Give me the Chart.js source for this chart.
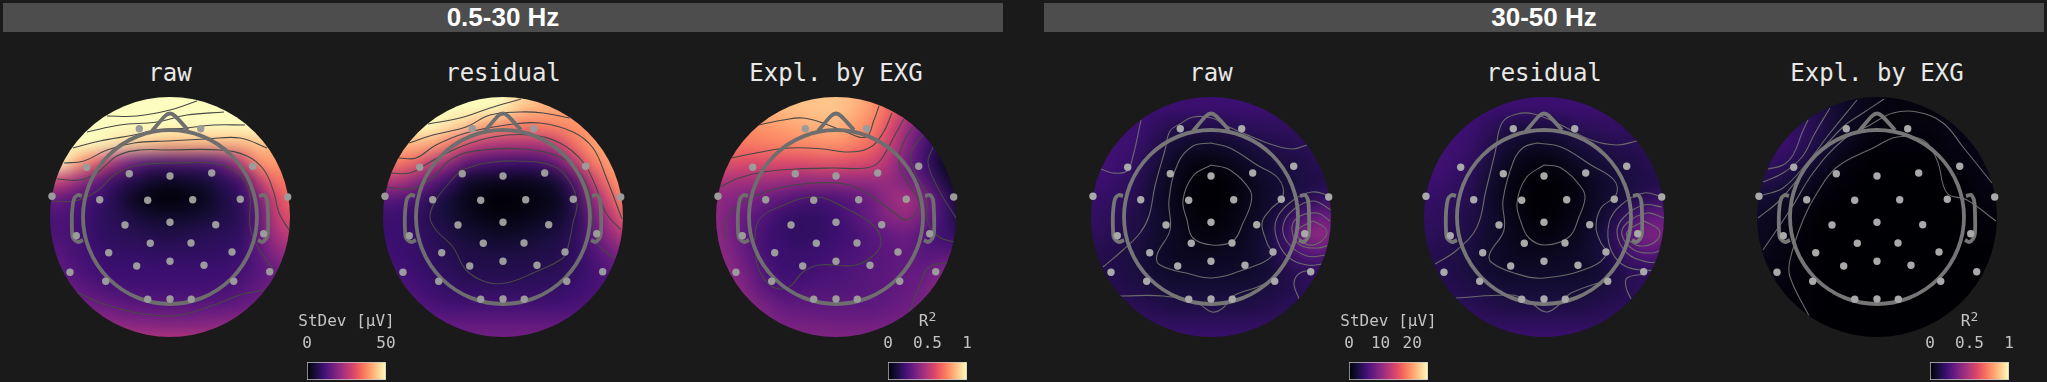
<!DOCTYPE html>
<html>
<head>
<meta charset="utf-8">
<title>EEG topomaps</title>
<script src="https://cdn.jsdelivr.net/npm/chart.js@4"></script>
<style>
  html, body { margin: 0; background: #1a1a1a; width: 2047px; height: 382px; overflow: hidden; }
  canvas { position: absolute; }
  .band { position: absolute; top: 3px; height: 29px; background: #4d4d4d; color: #fff; text-align: center;
          font: bold 26px/28px "Liberation Sans", sans-serif; }
  .title { position: absolute; top: 56px; width: 300px; text-align: center; color: #e8e8e8;
           font: 24px/34px "DejaVu Sans Mono", monospace; }
  .cbar-label { position: absolute; top: 311px; width: 139px; text-align: center; color: #c4c4c4;
                font: 16px/20px "DejaVu Sans Mono", monospace; }
  .cbar-label sup { font-size: 13px; line-height: 0; position: relative; top: 1px; vertical-align: super; }
</style>
</head>
<body>
<script>
// grid of the heat cells, in head units
const gridX = [-126, -108, -90, -72, -54, -36, -18, 0, 18, 36, 54, 72, 90, 108, 126];
const gridY = [-126, -108, -90, -72, -54, -36, -18, 0, 18, 36, 54, 72, 90, 108, 126];

// 0.5-30 Hz, StDev in uV
const lowRaw = [
  [60,60,60,60,60,60,60,60,60,60,60,60,60,60,60],
  [60,60,60,60,60,60,60,60,60,60,60,60,60,60,60],
  [60,60,60,60,60,60,60,60,60,60,60,60,58,56,55],
  [60,58,55,50,47,45,44,42,42,42,42,42,44,42,40],
  [50,50,40,32,22,15,12,12,12,12,15,27,39,40,37],
  [30,27,21,15,9,7,4,3,4,5,8,10,27,36,36],
  [15,15,12,10,7,2.5,1,0,1,2.5,6,9,17,30,35],
  [12,12,11,9,7.5,6,4,4,4,5,6.5,7.5,15,27,32],
  [12,12,11,9,8,7.5,7,6.5,7,7.5,8,8.5,15,24,27],
  [14,13,11,10,9,9,8.5,8.5,8.5,8.5,9,10,14,20,22],
  [16,14,12,10.5,10,10,10,10,10,10,10,11,13,16,19],
  [19,16,14,12.5,11.5,11,11,11,11,11,11.5,12.5,15,17,20],
  [21,20,17,16,15,14,13.5,13.5,13.5,14,14,15,16,19,21],
  [25,24,22,21,20,19,19,18.5,18.5,19,20,21,22,24,25],
  [27,27,26,25,25,25,25,25,25,25,25,25,26,27,27]
];
const lowResidual = [
  [60,60,60,60,60,60,60,60,47,45,42,40,40,40,40],
  [55,55,55,55,55,52,50,49,44,42,41,40,39,39,39],
  [50,50,50,50,47,44,40,37,36,36,37,39,39,39,39],
  [45,44,42,41,36,29,25,24,24,24,27,35,40,42,42],
  [36,36,34,27,21,14,12,11,10,11,15,25,36,40,42],
  [25,25,21,15,10,4,3,2.5,2.5,3,5,12,27,37,41],
  [14,13,12,8,5,2,0.5,0,0.5,1.5,2.5,7.5,20,31,40],
  [10,10,9,7,5,3,1.5,1,1.5,2.5,3.5,7,16,25,35],
  [10,10,9.5,8,6.5,5,4,3.5,4,5,6,8,14,21,27],
  [11,10,9.5,8.5,7,6.5,6,6,6,6.5,7,8.5,12,16,21],
  [12,11,10,9,8,7,7,7,7,7.5,7.5,8.5,11,13,16],
  [14,13,11.5,10,9,8.5,8.5,8.5,8.5,8.5,9,10,11,13,15],
  [16,15,13,12,11,11,11,11,11,11,11,11.5,12.5,14,16],
  [19,17,16,15,15,15,15,15,15,15,15,15,15,16,17],
  [21,20,19,18,17,17,17,17,17,17,17,17,17,18,19]
];
const lowExpl = [
  [.85,.85,.85,.85,.87,.88,.88,.88,.85,.8,.7,.6,.5,.4,.4],
  [.8,.8,.82,.85,.86,.87,.88,.88,.85,.78,.68,.55,.42,.3,.25],
  [.75,.75,.76,.78,.8,.82,.84,.85,.8,.74,.6,.42,.28,.15,.08],
  [.72,.72,.72,.73,.74,.75,.76,.77,.74,.68,.55,.38,.22,.1,.03],
  [.62,.62,.6,.6,.6,.6,.62,.62,.6,.58,.48,.32,.2,.06,.02],
  [.48,.47,.45,.45,.44,.42,.42,.42,.42,.42,.42,.35,.26,.12,.03],
  [.42,.38,.36,.32,.28,.24,.22,.24,.27,.32,.42,.47,.36,.22,.06],
  [.42,.36,.3,.25,.19,.17,.18,.2,.25,.32,.38,.42,.32,.22,.1],
  [.42,.36,.28,.22,.19,.17,.18,.2,.22,.26,.3,.32,.25,.2,.15],
  [.42,.38,.3,.22,.2,.19,.2,.22,.24,.26,.28,.3,.26,.26,.28],
  [.44,.4,.33,.25,.2,.2,.22,.24,.25,.27,.28,.3,.3,.36,.42],
  [.46,.42,.36,.28,.24,.24,.25,.25,.26,.27,.28,.3,.33,.42,.46],
  [.46,.44,.4,.35,.3,.29,.28,.28,.28,.28,.3,.32,.36,.42,.46],
  [.46,.44,.42,.38,.35,.34,.34,.33,.33,.33,.34,.36,.38,.42,.44],
  [.46,.44,.42,.4,.38,.38,.38,.38,.38,.38,.38,.38,.4,.42,.44]
];

// 30-50 Hz
const highRaw = [
  [5,5,5,5,5,5,5,5,5,5,5,5,5,5,5],
  [5,5,5,5,5,5,5,5,5,5,5,4.8,4.5,4.5,4.5],
  [5.2,5.2,5.2,5,4.2,3.5,3.2,3.2,3.5,4,4.2,4.2,4.2,4.2,4.2],
  [5.5,5.5,5.2,4.8,3.5,2.5,2,2,2.2,2.8,3.2,3.5,3.8,4,4],
  [5.5,5.5,5,4.2,2.8,1.5,0.8,0.5,1,1.8,2.5,3,3.2,3.8,4],
  [5,5,4.5,3.8,2.2,1.2,0.2,0,0.2,1,2,2.5,3,3.2,3.8],
  [4.8,4.5,4.2,3.5,2,1,0.2,0,0.2,1,1.8,2.5,3.2,4.2,4.8],
  [4.5,4.2,3.8,3.2,2.2,1.2,0.5,0,0.5,1.2,2,3.5,6,8,7.5],
  [4.2,4,3.5,3,2.2,1.5,0.8,0.5,0.8,1.5,2.5,4.5,8.5,10.8,8.8],
  [3.8,3.5,3.2,2.8,2,1.5,1.2,1.2,1.5,1.8,2.5,4,6.5,7,6.2],
  [3.5,3.5,3.2,2.8,2,1.8,1.8,1.8,1.8,1.8,2.2,3.2,4,4.2,4.5],
  [3.8,3.8,3.5,3.2,2.8,2.5,2.5,2.5,2.5,2.5,2.8,3.2,3.8,4,4.2],
  [4.2,4.2,4,3.8,3.5,3.2,3.2,3.2,3.2,3.2,3.5,3.8,4,4.2,4.2],
  [4.8,4.8,4.5,4.5,4.2,4.2,4.2,4.2,4.2,4.2,4.2,4.2,4.5,4.5,4.8],
  [5,5,5,5,5,5,5,5,5,5,5,5,5,5,5]
];
const highResidual = [
  [5,5,5,5,5,5,5,5,5,5,5,5,5,5,5],
  [5,5,5,5,5,5,5,5,5,5,5,4.8,4.8,4.5,4.5],
  [5.2,5.2,5.2,5,4.2,3.2,2.8,2.8,3.2,4,4.2,4.5,4.2,4.2,4.2],
  [5.5,5.5,5.2,4.8,3.5,2.2,1.8,1.8,2,2.8,3.2,3.5,3.8,4,4],
  [5.5,5.5,5,4.2,2.8,1.5,0.8,0.5,1,1.8,2.5,3,3.2,3.8,4],
  [5,5,4.5,3.8,2.2,1,0.2,0,0.2,0.8,1.8,2.5,3,3.2,3.8],
  [4.8,4.5,4.2,3.5,2,0.8,0.2,0,0.2,0.8,1.8,2.5,3.2,4.2,4.8],
  [4.5,4.2,3.8,3.2,2.2,1.2,0.4,0,0.4,1,2,3.2,5.5,7.5,7.5],
  [4.2,4,3.5,3,2.2,1.4,0.8,0.5,0.8,1.4,2.5,4.2,7.8,9.5,8.5],
  [3.8,3.5,3.2,2.8,2,1.5,1.2,1.2,1.5,1.8,2.5,3.8,6,6.8,6],
  [3.5,3.5,3.2,2.8,2,1.8,1.8,1.8,1.8,1.8,2.2,3.2,4,4.2,4.5],
  [3.8,3.8,3.5,3.2,2.8,2.5,2.5,2.5,2.5,2.5,2.8,3.2,3.8,4,4.2],
  [4.2,4.2,4,3.8,3.5,3.2,3.2,3.2,3.2,3.2,3.5,3.8,4,4.2,4.2],
  [4.8,4.8,4.5,4.5,4.2,4.2,4.2,4.2,4.2,4.2,4.2,4.2,4.5,4.5,4.8],
  [5,5,5,5,5,5,5,5,5,5,5,5,5,5,5]
];
const highExpl = [
  [.1,.1,.12,.12,.1,.07,.05,.03,.02,.02,.02,.02,.02,.02,.02],
  [.14,.14,.15,.15,.12,.08,.05,.03,.02,.02,.02,.02,.02,.02,.02],
  [.18,.18,.19,.17,.13,.08,.05,.02,.02,.02,.02,.03,.03,.02,.02],
  [.2,.2,.2,.16,.11,.06,.03,.01,.01,.01,.01,.03,.03,.03,.03],
  [.2,.18,.16,.12,.07,.03,.01,0,0,0,0,.01,.03,.03,.03],
  [.13,.13,.11,.07,.03,.01,0,0,0,0,0,0,.01,.03,.03],
  [.09,.09,.07,.04,.01,0,0,0,0,0,0,0,.01,.02,.02],
  [.07,.06,.04,.02,0,0,0,0,0,0,0,0,0,.01,.02],
  [.06,.05,.03,.01,0,0,0,0,0,0,0,0,0,.01,.01],
  [.04,.04,.02,.01,0,0,0,0,0,0,0,0,0,0,.01],
  [.03,.03,.02,.01,0,0,0,0,0,0,0,0,0,0,.01],
  [.02,.02,.02,.01,0,0,0,0,0,0,0,0,0,0,0],
  [.01,.01,.01,.01,0,0,0,0,0,0,0,0,0,0,0],
  [.01,.01,.01,0,0,0,0,0,0,0,0,0,0,0,0],
  [0,0,0,0,0,0,0,0,0,0,0,0,0,0,0]
];

// contour lines, [x, y] in head units
const lowRawLines = [
  [[-63,-101],[-33,-101],[0,-107],[27,-116]],
  [[-83,-85],[-50,-92],[-13,-95],[17,-102],[54,-105]],
  [[-97,-69],[-70,-76],[-36,-82],[-13,-87],[17,-89],[44,-92],[75,-92]],
  [[-106,-54],[-86,-56],[-63,-67],[-36,-74],[-3,-76],[37,-78],[70,-79],[97,-69]],
  [[-113,-38],[-90,-37],[-73,-44],[-53,-61],[-30,-67],[-3,-67],[50,-67],[77,-61],[94,-47],[104,-24],[109,-4],[119,13]],
  [[-118,-16],[-95,-16],[-73,-26],[-53,-44],[-30,-52],[7,-54],[40,-54],[64,-47],[79,-27],[80,9],[87,29],[104,53]],
  [[-92,76],[-63,88],[-26,97],[10,98],[44,88],[70,78],[94,73]]
];
const lowResidualLines = [
  [[-75,-93],[-43,-99],[-13,-109],[18,-118]],
  [[-94,-74],[-70,-82],[-37,-90],[-13,-102],[17,-105],[40,-104],[67,-99]],
  [[-104,-59],[-87,-59],[-67,-72],[-37,-84],[3,-92],[37,-94],[70,-85],[90,-69],[103,-40],[119,2]],
  [[-112,-44],[-93,-44],[-73,-55],[-43,-70],[-10,-80],[27,-82],[57,-74],[80,-55],[93,-30],[103,-4],[118,13]],
  [[-116,-30],[-93,-28],[-73,-37],[-50,-59],[-20,-67],[20,-68],[57,-60],[77,-44],[87,-20],[91,13],[97,30],[112,41]],
  [[-42,-47],[-17,-54],[13,-56],[50,-51],[67,-35],[74,-14],[70,6],[65,30],[60,41],[30,56],[3,66],[-17,65],[-37,53],[-50,30],[-67,13],[-73,0],[-67,-17],[-53,-35],[-42,-47]]
];
const lowExplLines = [
  [[-77,-92],[-53,-97],[-33,-99],[-13,-94],[10,-85],[30,-80],[38,-97],[43,-111]],
  [[-104,-59],[-80,-64],[-47,-69],[-13,-68],[10,-65],[33,-69],[47,-84],[56,-104]],
  [[-116,-30],[-97,-39],[-73,-45],[-40,-48],[-3,-49],[30,-49],[43,-55],[60,-84],[68,-98]],
  [[-111,22],[-111,6],[-100,-10],[-83,-20],[-57,-29],[-20,-34],[13,-32],[37,-20],[57,-5],[70,3],[80,-4],[83,-15],[70,-37],[63,-54],[67,-74],[77,-90]],
  [[-82,26],[-77,3],[-57,-10],[-20,-20],[13,-7],[37,8],[45,23],[40,36],[20,48],[-17,48],[-33,55],[-47,70],[-63,70],[-77,53],[-82,26]],
  [[87,-82],[75,-64],[79,-44],[90,-24],[92,6],[103,20],[118,25]],
  [[97,-70],[92,-54],[103,-27],[120,1]],
  [[112,46],[93,50],[83,70],[73,96]]
];
const highRawLines = [
  [[0,-52],[19,-47],[39,-27],[40,-14],[32,6],[22,24],[1,28],[-18,21],[-24,3],[-28,-17],[-18,-41],[0,-52]],
  [[0,-74],[19,-69],[46,-52],[67,-39],[72,-21],[59,-7],[51,6],[56,26],[61,39],[32,53],[1,61],[-21,57],[-51,48],[-54,38],[-41,13],[-42,-17],[-33,-54],[-18,-71],[0,-74]],
  [[120,-21],[101,-25],[81,-16],[66,1],[65,19],[76,39],[96,48],[112,47]],
  [[120,-7],[102,-16],[82,-7],[72,9],[77,26],[96,39],[116,38]],
  [[119,4],[106,-4],[86,1],[81,14],[89,28],[106,31],[119,28]],
  [[102,4],[114,11],[115,19],[102,28],[89,23],[87,13],[102,4]],
  [[-108,50],[-88,33],[-71,16],[-62,-1],[-56,-31],[-46,-67],[-41,-86],[-31,-93],[-18,-100],[1,-99],[16,-91],[39,-81],[62,-72],[82,-68],[96,-72]],
  [[-110,-48],[-98,-44],[-84,-46],[-78,-61],[-70,-97]],
  [[-91,79],[-48,79],[-14,86],[1,95],[12,91],[22,79],[49,69],[66,59]],
  [[102,53],[89,56],[83,66],[88,82]]
];
const highResidualLines = [
  [[0,-52],[17,-49],[37,-30],[41,-19],[35,0],[25,20],[1,28],[-15,21],[-23,5],[-27,-14],[-18,-39],[0,-52]],
  [[-7,-74],[17,-70],[47,-52],[70,-37],[72,-22],[57,-9],[52,10],[57,26],[63,36],[47,50],[0,61],[-30,56],[-53,45],[-54,36],[-40,13],[-41,-17],[-30,-57],[-20,-70],[-7,-74]],
  [[-109,47],[-87,33],[-67,10],[-58,-27],[-49,-64],[-42,-94],[-27,-103],[-10,-103],[17,-92],[47,-77],[73,-72],[93,-76]],
  [[118,-20],[100,-24],[77,-12],[65,6],[67,33],[83,50],[115,54]],
  [[118,-10],[100,-12],[80,0],[73,16],[83,36],[103,45],[115,45]],
  [[120,1],[103,-4],[83,6],[78,18],[90,33],[107,36],[118,33]],
  [[100,4],[115,13],[113,23],[100,29],[87,25],[83,15],[100,4]],
  [[-88,81],[-33,78],[-17,83],[2,95],[17,86],[27,76],[63,63]],
  [[100,57],[83,61],[82,70],[87,82]]
];
const highExplLines = [
  [[-109,-48],[-94,-52],[-84,-62],[-75,-84],[-69,-97]],
  [[-114,-35],[-94,-44],[-75,-60],[-62,-84],[-47,-109]],
  [[-114,-22],[-94,-29],[-70,-54],[-47,-84],[-20,-117]],
  [[-119,1],[-97,-17],[-64,-57],[-34,-90],[-14,-104],[7,-118]],
  [[-114,33],[-85,-10],[-64,-44],[-34,-77],[-7,-92],[16,-104],[40,-105],[66,-94],[86,-70],[115,-34]],
  [[-68,99],[-87,60],[-87,43],[-74,3],[-60,-24],[-40,-50],[-4,-69],[20,-80],[46,-77],[60,-57],[70,-24],[90,-17],[119,4]]
];

// sensors
const sensorX = [-118,-83.3,-30.7,30.7,82.7,117.7,-70.3,-40.7,0,41.7,-22.3,22.7,70.3,-45,0,45.7,-19.7,21,-61.3,62,-33.3,0,34,-100,99.7,-64.3,63.7,-22.3,0,21.3,-93.7,93.7];
const sensorY = [-20.7,-49.7,-88.3,-88.3,-50.7,-20,-17.3,-43.3,-41,-44,-16.7,-17.3,-17.7,8,5.3,7.7,26.3,26,35.7,35,49,44.3,48.3,55.3,54.7,64.3,64.3,82.3,82,82.3,18.7,16.7];

// head outline
const noseLine = [[-18,-86],[-5,-101],[0,-103.5],[5,-101],[18,-87]];
const earLeft = [[-88,-21],[-92,-22],[-96,-18],[-98,-4],[-98,13],[-97,21],[-92,25],[-87,23]];
const earRight = [[89,-21],[94,-22],[97,-17],[98,-4],[98,16],[96,22],[92,25],[88,23]];

const bandTitles = ['0.5-30 Hz', '30-50 Hz'];
const mapTitles = ['raw', 'residual', 'Expl. by EXG', 'raw', 'residual', 'Expl. by EXG'];
const stdevLabel = 'StDev [µV]';
const r2Label = 'R<sup>2</sup>';
const stdevTicksLow = [0, 50];
const stdevTicksHigh = [0, 10, 20];
const r2Ticks = [0, 0.5, 1];

const MAGMA = ['#000004','#140e36','#3b0f70','#641a80','#8c2981','#b73779','#de4968','#f7705c','#fe9f6d','#fecf92','#fcfdbf'];
const toRgb = (h) => [1, 3, 5].map(i => parseInt(h.slice(i, i + 2), 16));
function magma(t) {
  t = Math.max(0, Math.min(1, t)) * (MAGMA.length - 1);
  const i = Math.min(Math.floor(t), MAGMA.length - 2), f = t - i;
  const a = toRgb(MAGMA[i]), b = toRgb(MAGMA[i + 1]);
  return `rgb(${a.map((v, k) => Math.round(v + (b[k] - v) * f)).join(',')})`;
}

const DISC = 120;
const HALF = 148;

function discPath(chart) {
  const sx = chart.scales.x, sy = chart.scales.y;
  const r = Math.abs(sx.getPixelForValue(DISC) - sx.getPixelForValue(0));
  chart.ctx.beginPath();
  chart.ctx.arc(sx.getPixelForValue(0), sy.getPixelForValue(0), r, 0, Math.PI * 2);
}

// smooths the heat cells and cuts them to the disc, clips contours as well
const topoPlugin = {
  id: 'topo',
  beforeDatasetDraw(chart, args) {
    const ds = chart.data.datasets[args.index];
    if (ds.contour) { chart.ctx.save(); discPath(chart); chart.ctx.clip(); }
  },
  afterDatasetDraw(chart, args) {
    const ds = chart.data.datasets[args.index], ctx = chart.ctx;
    if (ds.contour) ctx.restore();
    if (!ds.heat) return;
    ctx.save();
    ctx.filter = 'blur(8px)';
    ctx.drawImage(chart.canvas, 0, 0);
    ctx.filter = 'none';
    ctx.globalCompositeOperation = 'destination-in';
    discPath(chart);
    ctx.fill();
    ctx.restore();
  }
};

const asPoints = (line) => line.map(([x, y]) => ({ x, y }));

function drawMap(cx, cy, grid, lines, vmax, lineColor, headColor, dotColor) {
  const c = document.createElement('canvas');
  c.width = c.height = HALF * 2;
  c.style.left = (cx - HALF) + 'px';
  c.style.top = (cy - HALF) + 'px';
  c.style.width = c.style.height = (HALF * 2) + 'px';
  document.body.appendChild(c);

  const cells = [];
  grid.forEach((row, j) => row.forEach((v, i) => cells.push({ x: gridX[i], y: gridY[j], v })));

  const outline = (line) => ({
    data: asPoints(line), showLine: true, tension: 0.25, borderColor: headColor, borderWidth: 3.8,
    pointRadius: 0, clip: false, order: 2
  });

  new Chart(c, {
    type: 'scatter',
    data: {
      datasets: [
        { data: sensorX.map((x, i) => ({ x, y: sensorY[i] })), pointRadius: 3.7, pointBackgroundColor: dotColor,
          pointBorderWidth: 0, clip: false, order: 1 },
        { data: [{ x: 0, y: 0 }], pointRadius: 87, pointBackgroundColor: 'transparent', pointBorderColor: headColor,
          pointBorderWidth: 3.8, clip: false, order: 2 },
        outline(noseLine), outline(earLeft), outline(earRight),
        ...lines.map(line => ({
          contour: true, data: asPoints(line), showLine: true, tension: 0.4, borderColor: lineColor,
          borderWidth: 1.1, pointRadius: 0, order: 3
        })),
        { heat: true, data: cells, pointStyle: 'rect', pointRadius: 13.4, pointBorderWidth: 0,
          pointBackgroundColor: (ctx) => ctx.raw ? magma(ctx.raw.v / vmax) : '#000', clip: false, order: 4 }
      ]
    },
    options: {
      responsive: false, animation: false, events: [],
      layout: { autoPadding: false },
      plugins: { legend: { display: false }, tooltip: { enabled: false } },
      scales: {
        x: { display: false, type: 'linear', min: -HALF, max: HALF },
        y: { display: false, type: 'linear', min: -HALF, max: HALF, reverse: true }
      }
    },
    plugins: [topoPlugin]
  });
}

function drawColorbar(left, vmax, tickList, label) {
  const c = document.createElement('canvas');
  c.width = 139; c.height = 76;
  c.style.left = (left - 30) + 'px';
  c.style.top = '305px';
  c.style.width = '139px'; c.style.height = '76px';
  document.body.appendChild(c);

  // the axis title would get squeezed to the bar width, so it is plain text here
  const d = document.createElement('div');
  d.className = 'cbar-label';
  d.style.left = (left - 30) + 'px';
  d.innerHTML = label;
  document.body.appendChild(d);

  const font = { family: '"DejaVu Sans Mono", monospace', size: 16, weight: 'normal' };
  new Chart(c, {
    type: 'bar',
    data: {
      labels: ['colorbar'],
      datasets: [{
        data: [[0, vmax]], barPercentage: 1, categoryPercentage: 1, borderWidth: 1, borderColor: '#c8c8c8',
        borderSkipped: false,
        backgroundColor: (ctx) => {
          const a = ctx.chart.chartArea;
          if (!a) return '#000';
          const g = ctx.chart.ctx.createLinearGradient(a.left, 0, a.right, 0);
          MAGMA.forEach((col, i) => g.addColorStop(i / (MAGMA.length - 1), col));
          return g;
        }
      }]
    },
    options: {
      indexAxis: 'y', responsive: false, animation: false, events: [],
      layout: { padding: { left: 30, right: 30, top: 0, bottom: 1 } },
      plugins: { legend: { display: false }, tooltip: { enabled: false } },
      scales: {
        y: { display: false },
        x: {
          position: 'top', min: 0, max: vmax,
          grid: { display: false, drawTicks: false }, border: { display: false },
          afterBuildTicks: (s) => { s.ticks = tickList.map(value => ({ value })); },
          afterFit: (s) => { s.height = 57; },
          ticks: { color: '#c4c4c4', font, padding: 9, autoSkip: false, maxRotation: 0, callback: (v) => String(v) }
        }
      }
    }
  });
}

[[3, 1003], [1044, 2044]].forEach(([a, b], i) => {
  const d = document.createElement('div');
  d.className = 'band';
  d.style.left = a + 'px';
  d.style.width = (b - a) + 'px';
  d.textContent = bandTitles[i];
  document.body.appendChild(d);
});

const centers = [170, 503, 836, 1211, 1544, 1877];
centers.forEach((cx, i) => {
  const d = document.createElement('div');
  d.className = 'title';
  d.style.left = (cx - 150) + 'px';
  d.textContent = mapTitles[i];
  document.body.appendChild(d);
});

const lowLine = '#474747', highLine = '#6a6a6a';
drawMap(centers[0], 217, lowRaw, lowRawLines, 50, lowLine, '#6e6e6e', '#9b9b9b');
drawMap(centers[1], 217, lowResidual, lowResidualLines, 50, lowLine, '#6e6e6e', '#9b9b9b');
drawMap(centers[2], 217, lowExpl, lowExplLines, 1, lowLine, '#6e6e6e', '#9b9b9b');
drawMap(centers[3], 217, highRaw, highRawLines, 25, highLine, '#767676', '#a9a9a9');
drawMap(centers[4], 217, highResidual, highResidualLines, 25, highLine, '#767676', '#a9a9a9');
drawMap(centers[5], 217, highExpl, highExplLines, 1, highLine, '#767676', '#a9a9a9');

drawColorbar(307, 50, stdevTicksLow, stdevLabel);
drawColorbar(888, 1, r2Ticks, r2Label);
drawColorbar(1349, 25, stdevTicksHigh, stdevLabel);
drawColorbar(1930, 1, r2Ticks, r2Label);
</script>
</body>
</html>
